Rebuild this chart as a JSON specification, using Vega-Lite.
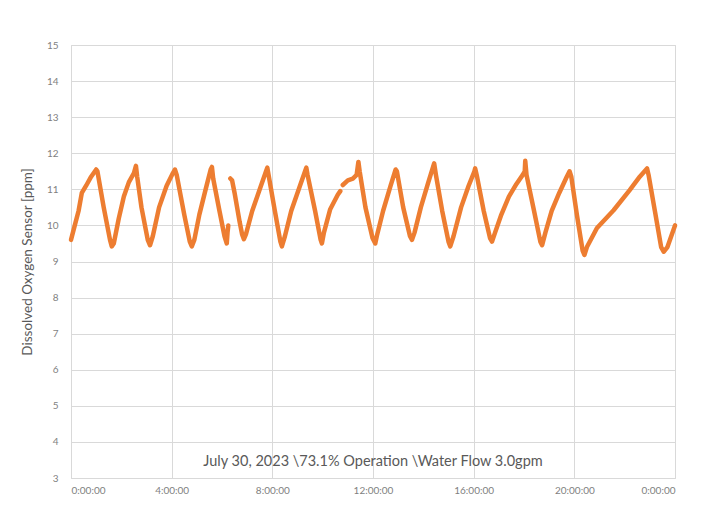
{
  "$schema": "https://vega.github.io/schema/vega-lite/v6.json",
  "width": 604,
  "height": 433,
  "autosize": {"type": "none"},
  "padding": {"left": 71, "top": 45, "right": 31, "bottom": 27},
  "background": "white",
  "config": {
    "font": "Lato",
    "view": {"stroke": "#d9d9d9", "strokeWidth": 1},
    "axis": {"gridColor": "#d9d9d9", "gridWidth": 1, "domain": false, "ticks": false, "labelColor": "#7f7f7f", "labelFontSize": 10, "titleColor": "#595959", "labelOverlap": false}
  },
  "layer": [
    {
      "data": {"values": [
        {"t": 0, "v": 9.6, "seg": 1}, {"t": 0.15, "v": 10.0, "seg": 1}, {"t": 0.3, "v": 10.4, "seg": 1}, {"t": 0.43, "v": 10.9, "seg": 1}, {"t": 0.6, "v": 11.1, "seg": 1}, {"t": 0.8, "v": 11.35, "seg": 1}, {"t": 1.0, "v": 11.55, "seg": 1}, {"t": 1.05, "v": 11.5, "seg": 1},
        {"t": 1.3, "v": 10.5, "seg": 1}, {"t": 1.55, "v": 9.6, "seg": 1}, {"t": 1.62, "v": 9.42, "seg": 1}, {"t": 1.7, "v": 9.5, "seg": 1}, {"t": 1.9, "v": 10.2, "seg": 1}, {"t": 2.1, "v": 10.8, "seg": 1}, {"t": 2.3, "v": 11.2, "seg": 1}, {"t": 2.5, "v": 11.45, "seg": 1}, {"t": 2.58, "v": 11.65, "seg": 1}, {"t": 2.63, "v": 11.35, "seg": 1},
        {"t": 2.8, "v": 10.5, "seg": 1}, {"t": 3.05, "v": 9.6, "seg": 1}, {"t": 3.14, "v": 9.45, "seg": 1}, {"t": 3.25, "v": 9.7, "seg": 1}, {"t": 3.5, "v": 10.5, "seg": 1}, {"t": 3.8, "v": 11.1, "seg": 1}, {"t": 4.05, "v": 11.45, "seg": 1}, {"t": 4.13, "v": 11.55, "seg": 1}, {"t": 4.2, "v": 11.4, "seg": 1},
        {"t": 4.5, "v": 10.3, "seg": 1}, {"t": 4.72, "v": 9.55, "seg": 1}, {"t": 4.8, "v": 9.42, "seg": 1}, {"t": 4.9, "v": 9.6, "seg": 1}, {"t": 5.1, "v": 10.3, "seg": 1}, {"t": 5.35, "v": 11.0, "seg": 1}, {"t": 5.55, "v": 11.55, "seg": 1}, {"t": 5.6, "v": 11.62, "seg": 1}, {"t": 5.65, "v": 11.3, "seg": 1},
        {"t": 5.9, "v": 10.4, "seg": 1}, {"t": 6.1, "v": 9.7, "seg": 1}, {"t": 6.19, "v": 9.5, "seg": 1}, {"t": 6.22, "v": 9.8, "seg": 1}, {"t": 6.25, "v": 10.0, "seg": 1},
        {"t": 6.33, "v": 11.3, "seg": 2}, {"t": 6.4, "v": 11.25, "seg": 2}, {"t": 6.5, "v": 10.9, "seg": 2}, {"t": 6.6, "v": 10.5, "seg": 2}, {"t": 6.7, "v": 10.1, "seg": 2}, {"t": 6.8, "v": 9.75, "seg": 2}, {"t": 6.87, "v": 9.62, "seg": 2}, {"t": 6.95, "v": 9.75, "seg": 2},
        {"t": 7.2, "v": 10.4, "seg": 2}, {"t": 7.5, "v": 11.0, "seg": 2}, {"t": 7.75, "v": 11.5, "seg": 2}, {"t": 7.8, "v": 11.6, "seg": 2}, {"t": 7.85, "v": 11.4, "seg": 2},
        {"t": 8.1, "v": 10.4, "seg": 2}, {"t": 8.32, "v": 9.55, "seg": 2}, {"t": 8.38, "v": 9.42, "seg": 2}, {"t": 8.5, "v": 9.7, "seg": 2}, {"t": 8.75, "v": 10.4, "seg": 2}, {"t": 9.05, "v": 11.0, "seg": 2}, {"t": 9.3, "v": 11.5, "seg": 2}, {"t": 9.35, "v": 11.6, "seg": 2}, {"t": 9.4, "v": 11.4, "seg": 2},
        {"t": 9.7, "v": 10.4, "seg": 2}, {"t": 9.92, "v": 9.6, "seg": 2}, {"t": 9.97, "v": 9.5, "seg": 2}, {"t": 10.05, "v": 9.8, "seg": 2}, {"t": 10.3, "v": 10.45, "seg": 2}, {"t": 10.6, "v": 10.85, "seg": 2}, {"t": 10.7, "v": 10.95, "seg": 2},
        {"t": 10.8, "v": 11.12, "seg": 3}, {"t": 11.0, "v": 11.25, "seg": 3}, {"t": 11.2, "v": 11.3, "seg": 3}, {"t": 11.35, "v": 11.4, "seg": 3}, {"t": 11.42, "v": 11.76, "seg": 3}, {"t": 11.47, "v": 11.5, "seg": 3},
        {"t": 11.7, "v": 10.5, "seg": 3}, {"t": 11.98, "v": 9.65, "seg": 3}, {"t": 12.09, "v": 9.5, "seg": 3}, {"t": 12.15, "v": 9.7, "seg": 3}, {"t": 12.4, "v": 10.4, "seg": 3}, {"t": 12.7, "v": 11.1, "seg": 3}, {"t": 12.9, "v": 11.55, "seg": 3}, {"t": 12.95, "v": 11.5, "seg": 3},
        {"t": 13.2, "v": 10.5, "seg": 3}, {"t": 13.47, "v": 9.7, "seg": 3}, {"t": 13.55, "v": 9.6, "seg": 3}, {"t": 13.65, "v": 9.8, "seg": 3}, {"t": 13.9, "v": 10.5, "seg": 3}, {"t": 14.2, "v": 11.2, "seg": 3}, {"t": 14.43, "v": 11.72, "seg": 3}, {"t": 14.5, "v": 11.4, "seg": 3},
        {"t": 14.75, "v": 10.4, "seg": 3}, {"t": 15.0, "v": 9.55, "seg": 3}, {"t": 15.07, "v": 9.42, "seg": 3}, {"t": 15.2, "v": 9.7, "seg": 3}, {"t": 15.5, "v": 10.5, "seg": 3}, {"t": 15.8, "v": 11.1, "seg": 3}, {"t": 16.03, "v": 11.5, "seg": 3}, {"t": 16.06, "v": 11.58, "seg": 3}, {"t": 16.12, "v": 11.4, "seg": 3},
        {"t": 16.4, "v": 10.4, "seg": 3}, {"t": 16.65, "v": 9.65, "seg": 3}, {"t": 16.73, "v": 9.55, "seg": 3}, {"t": 16.85, "v": 9.8, "seg": 3}, {"t": 17.1, "v": 10.3, "seg": 3}, {"t": 17.4, "v": 10.8, "seg": 3}, {"t": 17.7, "v": 11.15, "seg": 3}, {"t": 17.95, "v": 11.4, "seg": 3}, {"t": 18.03, "v": 11.5, "seg": 3}, {"t": 18.05, "v": 11.79, "seg": 3}, {"t": 18.1, "v": 11.4, "seg": 3},
        {"t": 18.4, "v": 10.4, "seg": 3}, {"t": 18.65, "v": 9.55, "seg": 3}, {"t": 18.72, "v": 9.45, "seg": 3}, {"t": 18.85, "v": 9.8, "seg": 3}, {"t": 19.1, "v": 10.4, "seg": 3}, {"t": 19.4, "v": 10.9, "seg": 3}, {"t": 19.7, "v": 11.35, "seg": 3}, {"t": 19.81, "v": 11.5, "seg": 3}, {"t": 19.88, "v": 11.35, "seg": 3},
        {"t": 20.1, "v": 10.3, "seg": 3}, {"t": 20.33, "v": 9.3, "seg": 3}, {"t": 20.4, "v": 9.18, "seg": 3}, {"t": 20.5, "v": 9.4, "seg": 3}, {"t": 20.9, "v": 9.93, "seg": 3}, {"t": 21.56, "v": 10.42, "seg": 3}, {"t": 22.2, "v": 10.98, "seg": 3}, {"t": 22.6, "v": 11.35, "seg": 3}, {"t": 22.89, "v": 11.58, "seg": 3}, {"t": 22.95, "v": 11.4, "seg": 3},
        {"t": 23.2, "v": 10.4, "seg": 3}, {"t": 23.45, "v": 9.4, "seg": 3}, {"t": 23.55, "v": 9.27, "seg": 3}, {"t": 23.7, "v": 9.4, "seg": 3}, {"t": 23.85, "v": 9.7, "seg": 3}, {"t": 24, "v": 10.0, "seg": 3}
      ]},
      "mark": {"type": "line", "color": "#ED7D31", "strokeWidth": 4.5, "strokeCap": "round", "strokeJoin": "round"},
      "encoding": {
        "x": {"field": "t", "type": "quantitative", "scale": {"domain": [0, 24], "nice": false}, "axis": {"values": [0, 4, 8, 12, 16, 20, 24], "labelExpr": "(datum.value % 24) + ':00:00'", "title": null, "labelPadding": 7}},
        "y": {"field": "v", "type": "quantitative", "scale": {"domain": [3, 15], "nice": false, "zero": false}, "axis": {"values": [3, 4, 5, 6, 7, 8, 9, 10, 11, 12, 13, 14, 15], "tickCount": 13, "title": "Dissolved Oxygen Sensor [ppm]", "titleFontSize": 13.5, "titleFontWeight": "normal", "labelPadding": 13, "titlePadding": 12}},
        "detail": {"field": "seg", "type": "nominal"}
      }
    },
    {
      "data": {"values": [{"t": 12, "v": 3.45, "label": "July 30, 2023 \\73.1% Operation \\Water Flow 3.0gpm"}]},
      "mark": {"type": "text", "fontSize": 14.5, "color": "#595959", "align": "center", "baseline": "middle"},
      "encoding": {
        "x": {"field": "t", "type": "quantitative"},
        "y": {"field": "v", "type": "quantitative"},
        "text": {"field": "label"}
      }
    }
  ]
}
